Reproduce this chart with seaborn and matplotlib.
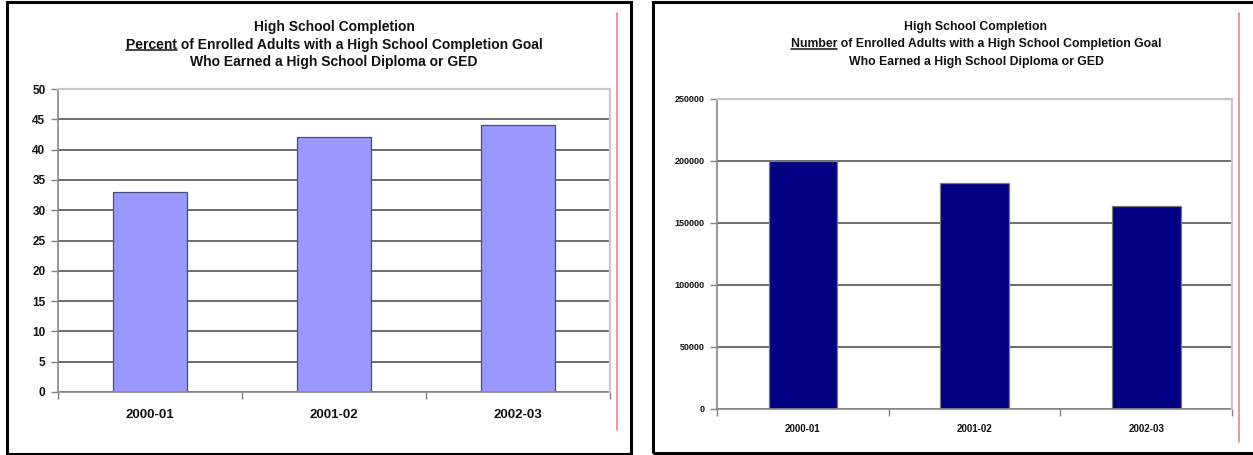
import matplotlib
matplotlib.use("Agg")
import matplotlib.pyplot as plt
from matplotlib import font_manager
from matplotlib.patches import Rectangle
from matplotlib.lines import Line2D
import seaborn as sns
import pandas as pd

# Program years and outcomes
years = ["2000-01", "2001-02", "2002-03"]
percent_earned = [33, 42, 44]
number_earned = [200000, 182000, 164000]

percent_ticks = [0, 5, 10, 15, 20, 25, 30, 35, 40, 45, 50]
number_ticks = [0, 50000, 100000, 150000, 200000, 250000]

title_top = "High School Completion"
title_mid_percent = ("Percent", " of Enrolled Adults with a High School Completion Goal")
title_mid_number = ("Number", " of Enrolled Adults with a High School Completion Goal")
title_bottom = "Who Earned a High School Diploma or GED"

sns.set_theme(style="white")
names = {f.name for f in font_manager.fontManager.ttflist}
base_font = "Liberation Sans" if "Liberation Sans" in names else "DejaVu Sans"
narrow_font = "Liberation Sans Narrow" if "Liberation Sans Narrow" in names else base_font
plt.rcParams["font.family"] = [base_font, "DejaVu Sans"]

W, H = 1253, 455
fig = plt.figure(figsize=(W / 100, H / 100), dpi=100)
fig.patch.set_facecolor("white")


def px_box(x0, y0, x1, y1):
    """Convert a pixel box (top-left origin) to figure fractions."""
    return [x0 / W, 1 - y1 / H, (x1 - x0) / W, (y1 - y0) / H]


ax1 = fig.add_axes(px_box(58, 89, 610, 392))
ax2 = fig.add_axes(px_box(717, 99, 1232, 409))

df_pct = pd.DataFrame({"year": years, "value": percent_earned})
df_num = pd.DataFrame({"year": years, "value": number_earned})

sns.barplot(data=df_pct, x="year", y="value", ax=ax1, color="#9999FF",
            saturation=1, width=0.4, edgecolor="#4a4a80", linewidth=0.9)
sns.barplot(data=df_num, x="year", y="value", ax=ax2, color="#000080",
            saturation=1, width=0.4, edgecolor="#7a7a7a", linewidth=0.9)


def style_axis(ax, ticks, ytick_font, ysize, xfont, xsize, xpad):
    ax.set_ylim(ticks[0], ticks[-1])
    ax.set_xlim(-0.5, len(years) - 0.5)
    ax.set_yticks(ticks)
    ax.set_yticklabels([str(t) for t in ticks], fontsize=ysize,
                       fontweight="bold", family=ytick_font, color="#111111")
    # category boundaries carry the tick marks, centres carry the labels
    ax.set_xticks([i - 0.5 for i in range(len(years) + 1)])
    ax.set_xticklabels([""] * (len(years) + 1))
    ax.set_xticks(range(len(years)), minor=True)
    ax.set_xticklabels(years, minor=True, fontsize=xsize, fontweight="bold",
                       family=xfont, color="#111111")
    ax.tick_params(axis="x", which="major", direction="out", length=5,
                   width=1, color="#808080", bottom=True)
    ax.tick_params(axis="x", which="minor", length=0, pad=xpad, bottom=True)
    ax.tick_params(axis="y", direction="out", length=5, width=1,
                   color="#808080", left=True, pad=4)
    ax.set_xlabel("")
    ax.set_ylabel("")
    ax.set_axisbelow(True)
    ax.yaxis.grid(True, color="#555555", linewidth=1.2)
    ax.xaxis.grid(False)
    for side in ("left", "bottom"):
        ax.spines[side].set_color("#8a8a8a")
        ax.spines[side].set_linewidth(1.2)
    for side in ("top", "right"):
        ax.spines[side].set_color("#c8c8c8")
        ax.spines[side].set_linewidth(1.6)
        ax.spines[side].set_zorder(3)


style_axis(ax1, percent_ticks, base_font, 8.5, base_font, 9.5, 12)
style_axis(ax2, number_ticks, narrow_font, 6.5, narrow_font, 7, 11)

# Panel frames and the thin red rules at their right side
fig.add_artist(Rectangle((7 / W, 1 - 454 / H), (631 - 7) / W, (454 - 2) / H,
                         transform=fig.transFigure, fill=False,
                         edgecolor="black", linewidth=2.2))
fig.add_artist(Rectangle((653 / W, 1 - 453 / H), (1262 - 653) / W, (453 - 2) / H,
                         transform=fig.transFigure, fill=False,
                         edgecolor="black", linewidth=2.2))
for rx, ry0, ry1 in [(617, 13, 430), (1239, 13, 442)]:
    fig.add_artist(Line2D([rx / W, rx / W], [1 - ry0 / H, 1 - ry1 / H],
                          transform=fig.transFigure, color="#e87878",
                          linewidth=1.1))

# Three-line titles with the first word of the middle line underlined
titles = [
    (334, title_mid_percent, 10),
    (976, title_mid_number, 8.8),
]
fig.canvas.draw()
renderer = fig.canvas.get_renderer()
for cx, (word, rest), size in titles:
    kw = dict(ha="center", va="center", fontsize=size, fontweight="bold",
              color="#111111", family=base_font)
    fig.text(cx / W, 1 - 27 / H, title_top, **kw)
    mid = fig.text(cx / W, 1 - 44.5 / H, word + rest, **kw)
    fig.text(cx / W, 1 - 62 / H, title_bottom, **kw)
    probe = fig.text(0, 0, word, fontsize=size, fontweight="bold",
                     family=base_font)
    bb_mid = mid.get_window_extent(renderer)
    bb_word = probe.get_window_extent(renderer)
    probe.remove()
    uy = bb_mid.y0 + 1.5
    fig.add_artist(Line2D([bb_mid.x0 / W, (bb_mid.x0 + bb_word.width) / W],
                          [uy / H, uy / H], transform=fig.transFigure,
                          color="#111111", linewidth=1.1))

fig.savefig("out.png", dpi=100, facecolor="white")
